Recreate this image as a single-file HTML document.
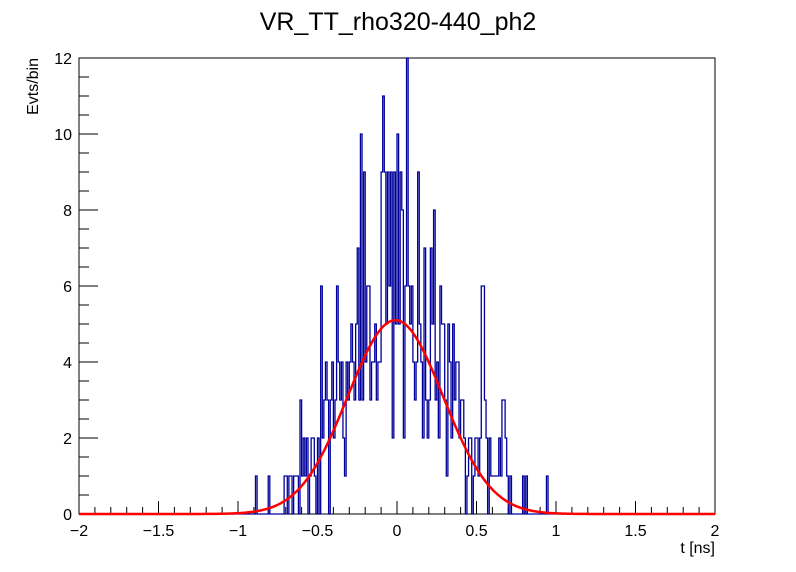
<!DOCTYPE html>
<html><head><meta charset="utf-8"><style>
html,body{margin:0;padding:0;background:#fff;}
svg{display:block;font-family:"Liberation Sans",sans-serif;}
</style></head><body>
<svg id="c" width="796" height="572">
<text x="398" y="30" font-size="25" text-anchor="middle">VR_TT_rho320-440_ph2</text>
<rect x="79" y="58" width="636" height="456" fill="none" stroke="#000" stroke-width="1"/>
<text x="0" y="0" font-size="16" text-anchor="end" transform="translate(38,58) rotate(-90)">Evts/bin</text>
<text x="715" y="553" font-size="16" text-anchor="end">t [ns]</text>
<g id="axes"></g>
<path id="hist" fill="none" stroke="#00009a" stroke-width="1.3"/>
<path id="fit" fill="none" stroke="#ff0000" stroke-width="2.5"/>
</svg>
<script>
const binStart = -0.95;
const binWidth = 0.01;
const counts = [
0,0,0,0,0,0,1,
0,0,0,0,0,0,0,1,
0,0,0,0,0,0,0,0,0,
1,1,0,1,1,0,1,1,1,0,3,1,
2,1,2,0,1,2,2,1,0,2,
0,6,2,3,4,3,0,3,4,2,
3,6,4,3,4,2,1,4,3,4,
5,4,3,5,7,3,10,3,9,4,
6,6,3,4,4,5,3,4,4,9,
11,9,5,9,6,9,2,9,5,10,
5,9,8,2,6,12,6,5,6,4,
3,4,9,5,4,2,7,3,2,3,
7,5,8,3,4,2,6,5,5,3,
1,5,4,2,5,3,4,4,2,
3,3,2,0,1,2,2,0,1,2,
2,1,2,6,6,3,2,0,2,1,
1,1,1,1,2,1,3,3,2,1,
0,1,0,0,0,0,0,0,0,1,
0,1,0,0,0,0,0,0,0,0,
0,0,0,0,1];
const fitParams = [5.1, -0.01, 0.30];
const xTicks = [-2,-1.5,-1,-0.5,0,0.5,1,1.5,2];
const xTickLabels = ["−2","−1.5","−1","−0.5","0","0.5","1","1.5","2"];
const yTicks = [0,2,4,6,8,10,12];
const yTickLabels = ["0","2","4","6","8","10","12"];

const X0=79,X1=715,Y0=514,Y1=58,xmin=-2,xmax=2,ymin=0,ymax=12;
const sx=v=>X0+(v-xmin)/(xmax-xmin)*(X1-X0);
const sy=v=>Y0-(v-ymin)/(ymax-ymin)*(Y0-Y1);
const NS="http://www.w3.org/2000/svg";
const ax=document.getElementById('axes');
function ln(x1,y1,x2,y2,name){const l=document.createElementNS(NS,'line');
l.setAttribute('x1',x1);l.setAttribute('y1',y1);l.setAttribute('x2',x2);l.setAttribute('y2',y2);l.setAttribute('stroke','#000');


ax.appendChild(l);}
function tx(x,y,s,anchor,name){const t=document.createElementNS(NS,'text');
t.setAttribute('x',x);t.setAttribute('y',y);t.setAttribute('font-size','16');t.setAttribute('text-anchor',anchor);t.textContent=s;


ax.appendChild(t);}
for(let i=0;i<=40;i++){const v=xmin+i*0.1;const major=i%5===0;ln(sx(v),Y0,sx(v),Y0-(major?13:7),'x-tick');}
xTicks.forEach((v,i)=>tx(sx(v),536,xTickLabels[i],'middle','x-tick-label'));
for(let i=0;i<=24;i++){const v=i*0.5;const major=i%4===0;ln(X0,sy(v),X0+(major?19:10),sy(v),'y-tick');}
yTicks.forEach((v,i)=>tx(X0-7,sy(v)+6,yTickLabels[i],'end','y-tick-label'));

let d=`M${sx(xmin)},${sy(0)} L${sx(binStart)},${sy(0)}`;
counts.forEach((c,i)=>{const a=binStart+i*binWidth,b=a+binWidth;
const yc=Math.max(sy(c),Y1);
d+=` L${sx(a)},${yc} L${sx(b)},${yc}`;});
d+=` L${sx(binStart+counts.length*binWidth)},${sy(0)} L${sx(xmax)},${sy(0)}`;
document.getElementById('hist').setAttribute('d',d);

const [A,mu,sg]=fitParams;let f='';
for(let i=0;i<=400;i++){const v=xmin+i*0.01;const y=A*Math.exp(-0.5*((v-mu)/sg)**2);
f+=(i?' L':'M')+sx(v).toFixed(2)+','+sy(y).toFixed(2);}
document.getElementById('fit').setAttribute('d',f);
</script>
</body></html>
